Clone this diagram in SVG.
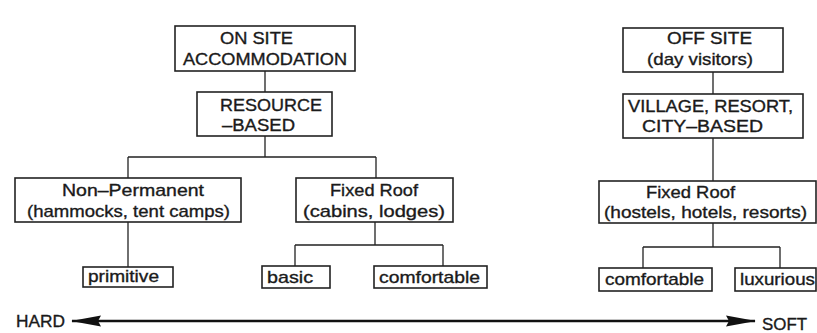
<svg xmlns="http://www.w3.org/2000/svg" width="817" height="333" viewBox="0 0 817 333">
<style>
.box{fill:#fff;stroke:#222;stroke-width:1.6}
.t{font-family:"Liberation Sans",Arial,sans-serif;font-size:17px;fill:#1a1a1a;stroke:#1a1a1a;stroke-width:0.35}
.ln{fill:none;stroke:#222;stroke-width:1.3}
.ax{fill:none;stroke:#111;stroke-width:2.6}
</style>
<defs>
<marker id="ah" viewBox="0 0 30 12" refX="29" refY="6" markerWidth="30" markerHeight="12" markerUnits="userSpaceOnUse" orient="auto-start-reverse">
<path d="M0,0.5 L30,6 L0,11.5 L3,6 Z" fill="#111"/>
</marker>
</defs>
<rect width="817" height="333" fill="#fff"/>
<g id="connectors">
<path class="ln" d="M265,71 V92 M265,136 V157 M128,157 H376 M128,157 V178 M376,157 V178"/>
<path class="ln" d="M128,222 V267"/>
<path class="ln" d="M375,222 V245 M295,245 H443 M295,245 V266 M443,245 V266"/>
<path class="ln" d="M713,72 V94 M713,138 V181"/>
<path class="ln" d="M713,223 V247 M643,247 H780 M643,247 V268 M780,247 V268"/>
<line class="ax" x1="72" y1="321" x2="755" y2="321" marker-start="url(#ah)" marker-end="url(#ah)"/>
</g>
<g id="onsite">
<rect class="box" x="175" y="26" width="180" height="45"/>
<text class="t" x="220" y="44" textLength="73" lengthAdjust="spacingAndGlyphs">ON SITE</text>
<text class="t" x="183" y="65" textLength="164" lengthAdjust="spacingAndGlyphs">ACCOMMODATION</text>
</g>
<g id="resource">
<rect class="box" x="197" y="92" width="135" height="44"/>
<text class="t" x="220" y="111" textLength="102" lengthAdjust="spacingAndGlyphs">RESOURCE</text>
<text class="t" x="222" y="131" textLength="73" lengthAdjust="spacingAndGlyphs">–BASED</text>
</g>
<g id="nonpermanent">
<rect class="box" x="15" y="178" width="226" height="44"/>
<text class="t" x="62" y="196" textLength="142" lengthAdjust="spacingAndGlyphs">Non–Permanent</text>
<text class="t" x="27" y="217" textLength="203" lengthAdjust="spacingAndGlyphs">(hammocks, tent camps)</text>
</g>
<g id="fixedroof-left">
<rect class="box" x="296" y="178" width="157" height="44"/>
<text class="t" x="330" y="196" textLength="88" lengthAdjust="spacingAndGlyphs">Fixed Roof</text>
<text class="t" x="303" y="217" textLength="142" lengthAdjust="spacingAndGlyphs">(cabins, lodges)</text>
</g>
<g id="primitive">
<rect class="box" x="83" y="267" width="90" height="20"/>
<text class="t" x="88" y="282" textLength="71" lengthAdjust="spacingAndGlyphs">primitive</text>
</g>
<g id="basic">
<rect class="box" x="262" y="266" width="68" height="22"/>
<text class="t" x="267" y="283" textLength="46" lengthAdjust="spacingAndGlyphs">basic</text>
</g>
<g id="comfortable-left">
<rect class="box" x="374" y="266" width="113" height="22"/>
<text class="t" x="379" y="283" textLength="101" lengthAdjust="spacingAndGlyphs">comfortable</text>
</g>
<g id="offsite">
<rect class="box" x="623" y="28" width="160" height="44"/>
<text class="t" x="667" y="44" textLength="85" lengthAdjust="spacingAndGlyphs">OFF SITE</text>
<text class="t" x="647" y="65" textLength="106" lengthAdjust="spacingAndGlyphs">(day visitors)</text>
</g>
<g id="village">
<rect class="box" x="623" y="94" width="180" height="44"/>
<text class="t" x="628" y="112" textLength="165" lengthAdjust="spacingAndGlyphs">VILLAGE, RESORT,</text>
<text class="t" x="642" y="132" textLength="121" lengthAdjust="spacingAndGlyphs">CITY–BASED</text>
</g>
<g id="fixedroof-right">
<rect class="box" x="599" y="181" width="217" height="42"/>
<text class="t" x="646" y="198" textLength="89" lengthAdjust="spacingAndGlyphs">Fixed Roof</text>
<text class="t" x="604" y="218" textLength="203" lengthAdjust="spacingAndGlyphs">(hostels, hotels, resorts)</text>
</g>
<g id="comfortable-right">
<rect class="box" x="599" y="268" width="113" height="23"/>
<text class="t" x="605" y="285" textLength="99" lengthAdjust="spacingAndGlyphs">comfortable</text>
</g>
<g id="luxurious">
<rect class="box" x="735" y="268" width="81" height="23"/>
<text class="t" x="740" y="285" textLength="75" lengthAdjust="spacingAndGlyphs">luxurious</text>
</g>
<g id="hard">
<text class="t" x="16" y="327" textLength="49" lengthAdjust="spacingAndGlyphs">HARD</text>
</g>
<g id="soft">
<text class="t" x="762" y="330" textLength="45" lengthAdjust="spacingAndGlyphs">SOFT</text>
</g>
</svg>
